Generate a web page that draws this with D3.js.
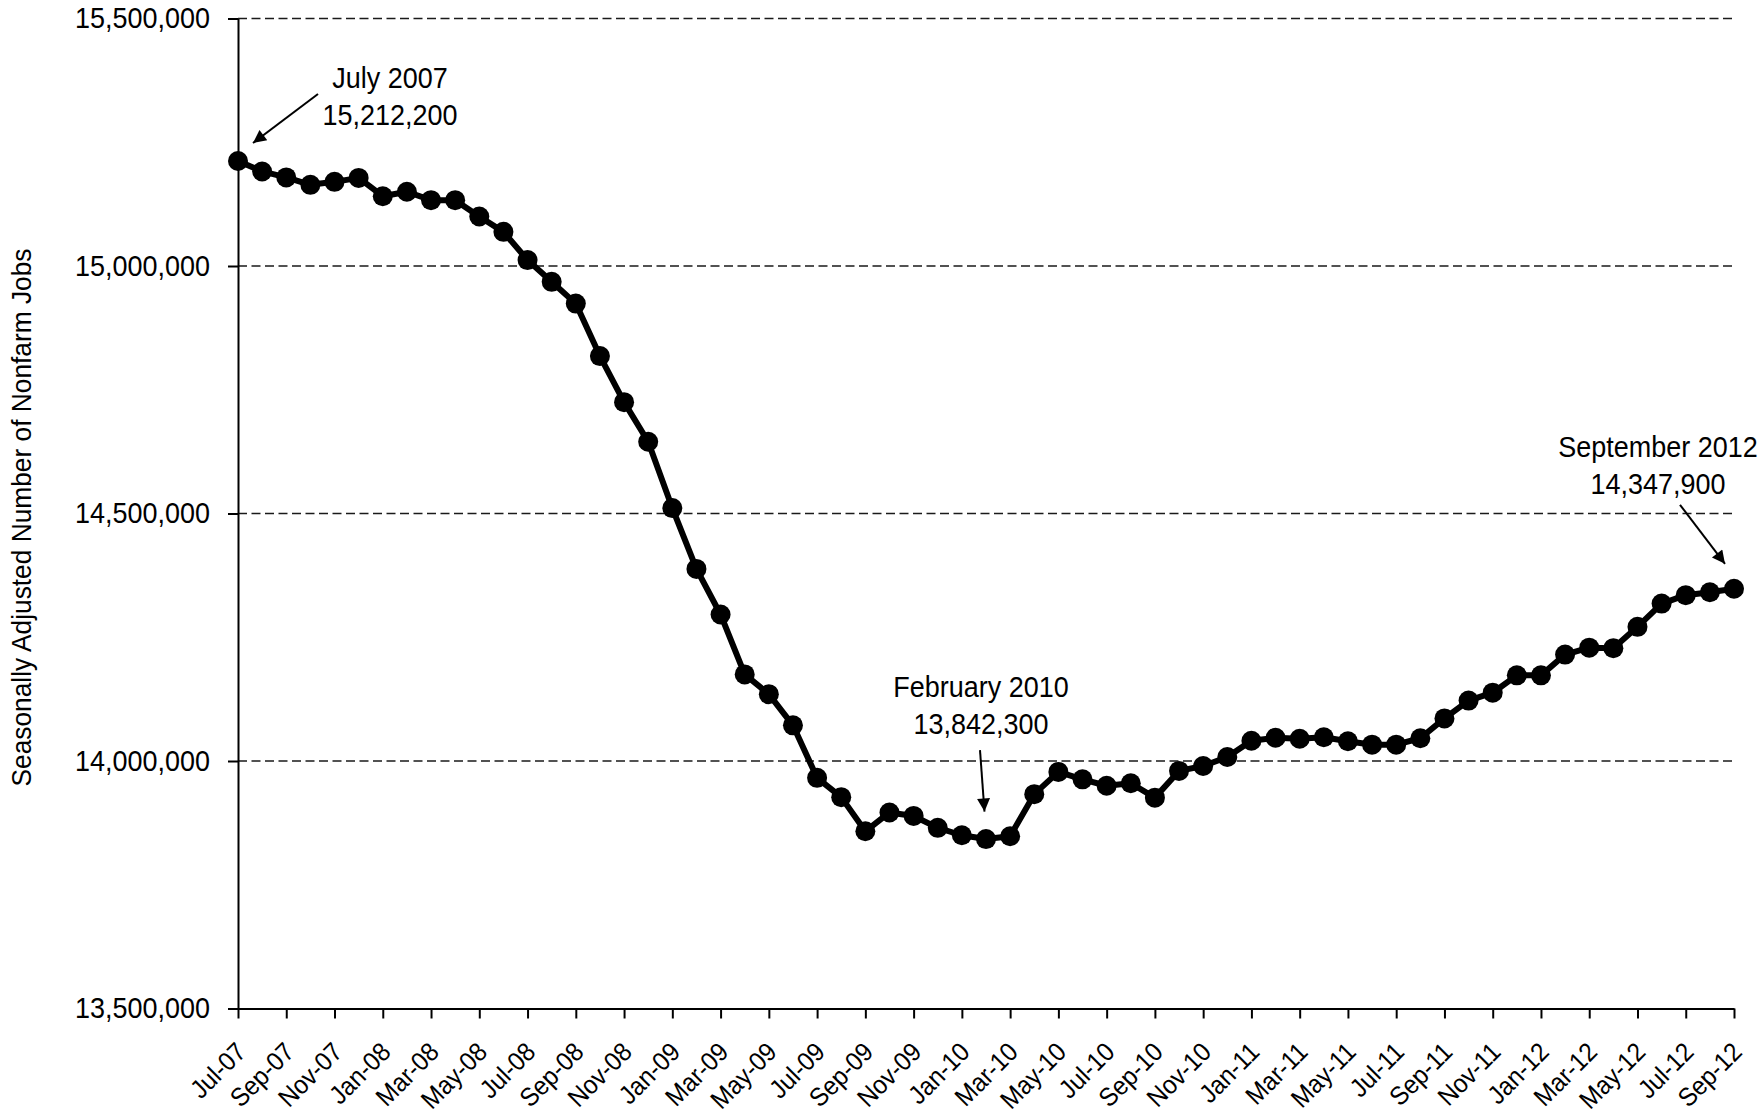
<!DOCTYPE html>
<html lang="en">
<head>
<meta charset="UTF-8">
<title>Seasonally Adjusted Nonfarm Jobs</title>
<script src="https://cdn.jsdelivr.net/npm/d3@7"></script>
<style>
    body {
        margin: 0;
        background-color: #ffffff;
    }

    svg {
        display: block;
    }

    text {
        font-family: "Liberation Sans", Arial, sans-serif;
        font-size: 29px;
        fill: #000000;
    }

    .grid line {
        stroke: #1a1a1a;
        stroke-width: 1.5;
        stroke-dasharray: 9, 4.5;
    }

    .axis path,
    .axis line {
        fill: none;
        stroke: #000000;
        stroke-width: 2;
    }

    .note-arrow {
        stroke: #000000;
        stroke-width: 2;
    }
</style>
</head>
<body>
<svg width="1762" height="1114"></svg>

<script>
    // months on the x axis, Jul 2007 .. Sep 2012
    var firstMonth = new Date(2007, 6, 1);
    var lastMonth = new Date(2012, 8, 1);

    // seasonally adjusted nonfarm jobs, one value per month
    var jobs = [
        15212200, 15191000, 15179000, 15164000, 15170000, 15178000,
        15141000, 15150000, 15133000, 15133000, 15100000, 15069000,
        15012000, 14968000, 14924000, 14818000, 14725000, 14645000,
        14511000, 14388000, 14296000, 14175000, 14135000, 14072000,
        13966000, 13927000, 13858000, 13896000, 13889000, 13865000,
        13850000, 13842300, 13848000, 13933000, 13978000, 13963000,
        13950000, 13955000, 13926000, 13980000, 13990000, 14008000,
        14041000, 14047000, 14045000, 14048000, 14040000, 14033000,
        14033000, 14046000, 14086000, 14122000, 14138000, 14173000,
        14173000, 14215000, 14229000, 14228000, 14271000, 14318000,
        14335000, 14341000, 14347900
    ];

    var yTicks = [13500000, 14000000, 14500000, 15000000, 15500000];

    var yTitle = "Seasonally Adjusted Number of Nonfarm Jobs";

    // annotated months (index into jobs) and their text
    var noteIndex = [0, 31, 62];
    var noteText = [
        ["July 2007", "15,212,200"],
        ["February 2010", "13,842,300"],
        ["September 2012", "14,347,900"]
    ];

    var svg = d3.select("svg");
    var margin = {top: 18.5, right: 28, bottom: 105.5, left: 238};
    var width = 1762 - margin.left - margin.right;
    var height = 1114 - margin.top - margin.bottom;
    var squeeze = 0.93; // the original type is a little condensed

    var fmtMonth = d3.timeFormat("%b-%y");
    var months = d3.timeMonth.range(firstMonth, d3.timeMonth.offset(lastMonth, 1));
    var monthLabels = months.map(fmtMonth);

    var x = d3.scalePoint()
            .domain(monthLabels)
            .range([0, width]);
    var y = d3.scaleLinear()
            .domain([yTicks[0], yTicks[yTicks.length - 1]])
            .range([height, 0]);

    var g = svg.append("g")
            .attr("transform", "translate(" + margin.left + "," + margin.top + ")");

    // dashed grid lines
    g.append("g")
            .attr("class", "grid")
            .selectAll("line")
            .data(yTicks.slice(1))
            .enter()
            .append("line")
            .attr("x1", 0)
            .attr("x2", width + 2)
            .attr("y1", function (d) { return y(d); })
            .attr("y2", function (d) { return y(d); });

    // axes
    var xAxis = d3.axisBottom(x)
            .tickValues(monthLabels.filter(function (d, i) { return i % 2 === 0; }))
            .tickSize(10)
            .tickSizeOuter(0);
    var yAxis = d3.axisLeft(y)
            .tickValues(yTicks)
            .tickSize(10)
            .tickSizeOuter(0)
            .tickPadding(18)
            .tickFormat(d3.format(","));

    var gx = g.append("g")
            .attr("class", "axis")
            .attr("transform", "translate(0," + height + ")")
            .call(xAxis);
    gx.selectAll("text")
            .attr("x", 0)
            .attr("y", 0)
            .attr("dy", 0)
            .attr("text-anchor", "end")
            .attr("transform", "translate(9,45) rotate(-45) scale(" + squeeze + ",1)")
            .style("font-size", "26px");

    var gy = g.append("g")
            .attr("class", "axis")
            .call(yAxis);
    gy.selectAll("text")
            .attr("x", -28 / squeeze)
            .attr("transform", "scale(" + squeeze + ",1)");

    svg.append("text")
            .attr("transform", "translate(31," + (margin.top + height / 2 + 4) + ") rotate(-90) scale(" + squeeze + ",1)")
            .attr("text-anchor", "middle")
            .style("font-size", "28.3px")
            .text(yTitle);

    // series
    var line = d3.line()
            .x(function (d, i) { return x(monthLabels[i]); })
            .y(function (d) { return y(d); });

    g.append("path")
            .datum(jobs)
            .attr("fill", "none")
            .attr("stroke", "#000")
            .attr("stroke-width", 6)
            .attr("stroke-linejoin", "round")
            .attr("d", line);

    g.selectAll(".dot")
            .data(jobs)
            .enter()
            .append("circle")
            .attr("class", "dot")
            .attr("cx", function (d, i) { return x(monthLabels[i]); })
            .attr("cy", function (d) { return y(d); })
            .attr("r", 10)
            .attr("fill", "#000");

    // annotations
    svg.append("defs").append("marker")
            .attr("id", "head")
            .attr("viewBox", "0 0 10 10")
            .attr("refX", 10)
            .attr("refY", 5)
            .attr("markerWidth", 17)
            .attr("markerHeight", 13)
            .attr("markerUnits", "userSpaceOnUse")
            .attr("orient", "auto")
            .append("path")
            .attr("d", "M0,0L10,5L0,10Z")
            .attr("fill", "#000");

    // offsets from the annotated point: text centre, arrow tail, arrow tip
    var noteLayout = [
        {tx: 152, ty: -73, ax: 80, ay: -67, bx: 15, by: -18},
        {tx: -5, ty: -142, ax: -6, ay: -89, bx: -1.5, by: -27.5},
        {tx: -76, ty: -132, ax: -54, ay: -84, bx: -9, by: -25}
    ];

    noteIndex.forEach(function (idx, k) {
        var px = x(monthLabels[idx]);
        var py = y(jobs[idx]);
        var L = noteLayout[k];
        var t = g.append("text")
                .attr("text-anchor", "middle")
                .attr("transform", "translate(" + (px + L.tx) + "," + (py + L.ty) + ") scale(" + squeeze + ",1)");
        t.append("tspan").attr("x", 0).attr("y", 0).text(noteText[k][0]);
        t.append("tspan").attr("x", 0).attr("y", 37).text(noteText[k][1]);
        g.append("line")
                .attr("class", "note-arrow")
                .attr("x1", px + L.ax)
                .attr("y1", py + L.ay)
                .attr("x2", px + L.bx)
                .attr("y2", py + L.by)
                .attr("marker-end", "url(#head)");
    });
</script>
</body>
</html>
